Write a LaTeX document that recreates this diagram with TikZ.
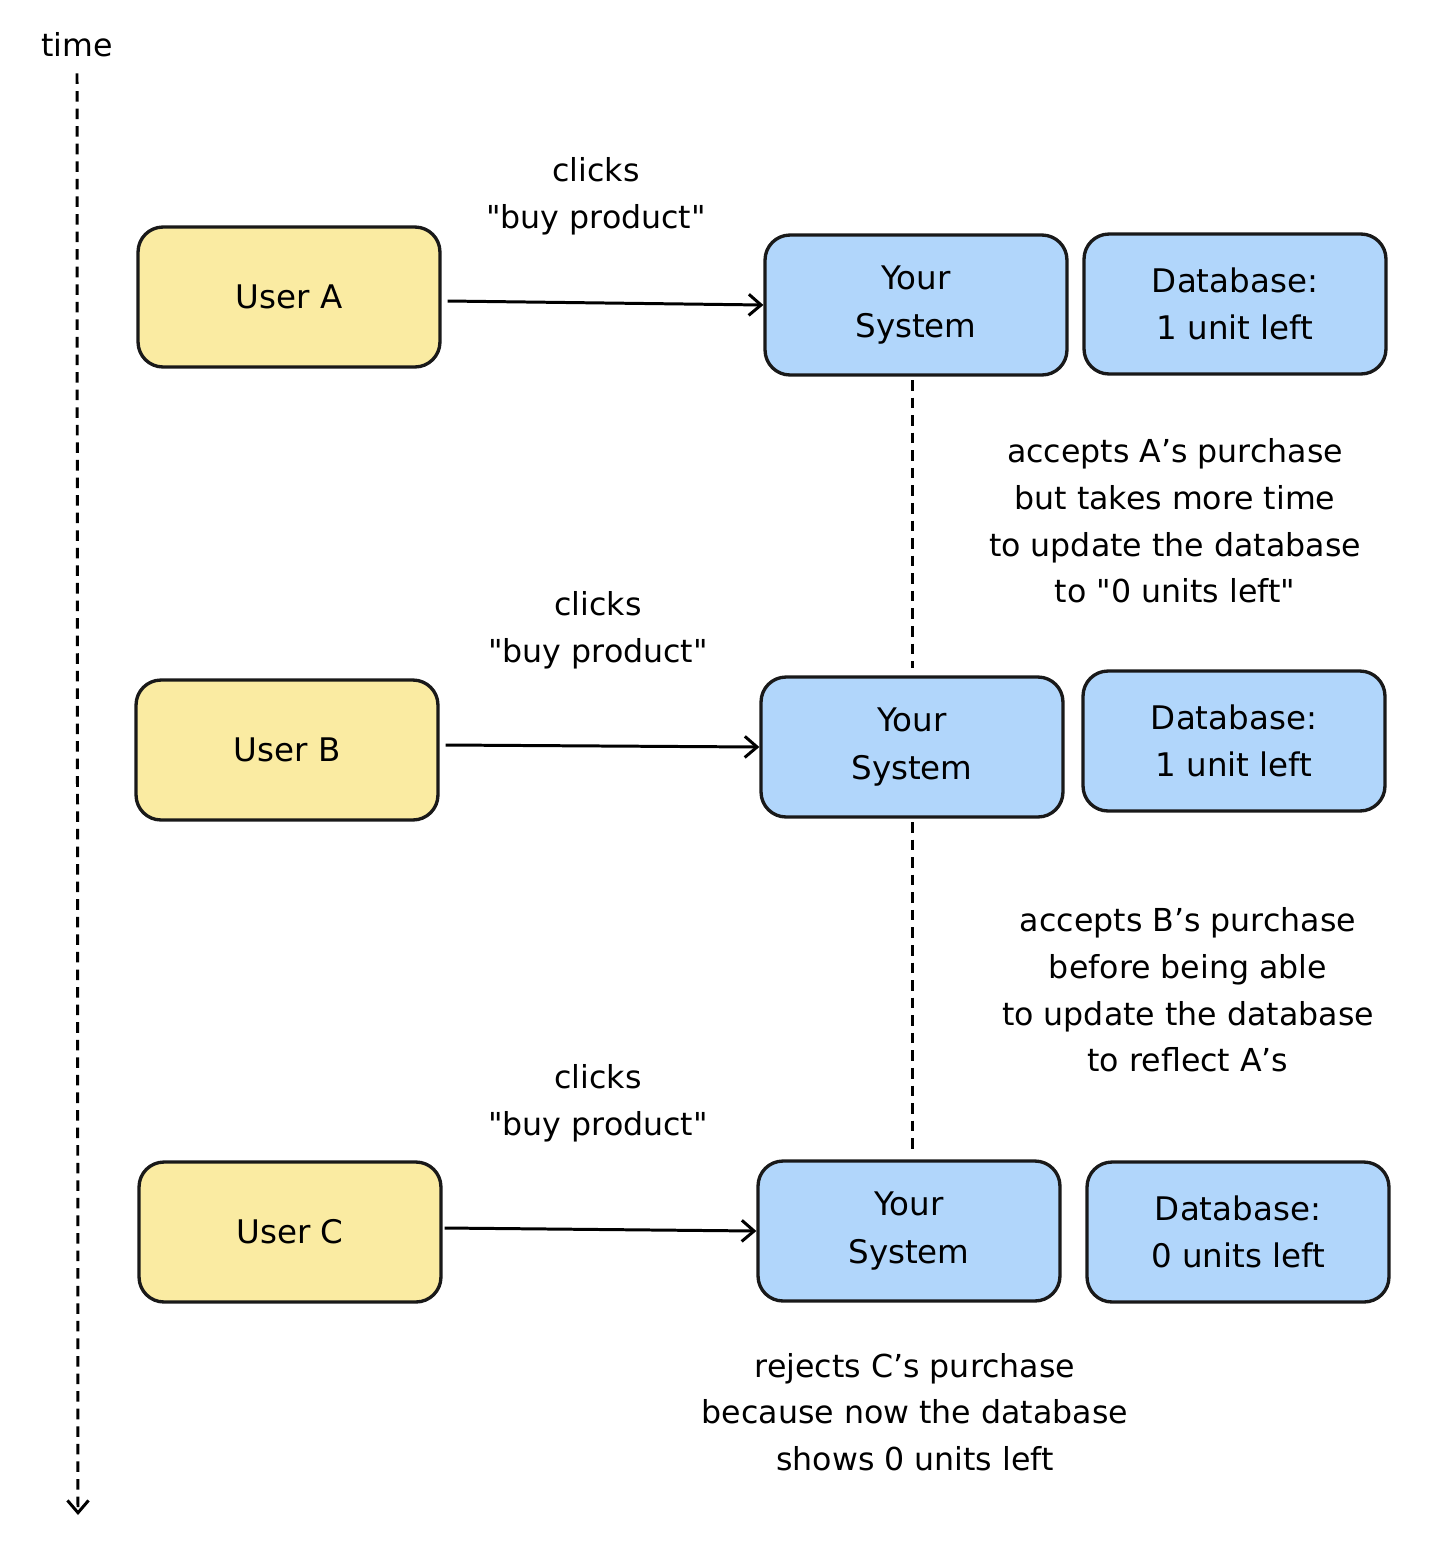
\documentclass[tikz,border=0pt]{standalone}
\usepackage{fontspec}
\setmainfont{DejaVu Sans}
\usepackage{tikz}
\usetikzlibrary{positioning,arrows.meta}
\begin{document}
\begin{tikzpicture}[y=-0.02cm,x=0.02cm,
	box/.style={draw=black!90, line width=1.9pt, rounded corners=0.5cm, minimum width=6.04cm, minimum height=2.8cm, align=center, font=\fontsize{18.5}{27}\selectfont},
	user/.style={box, fill=userfill},
	sys/.style={box, fill=sysfill},
	note/.style={align=center, font=\fontsize{18}{26.5}\selectfont},
	flow/.style={line width=1.7pt, -{Straight Barb[length=7pt,width=12pt]}},
	wait/.style={line width=1.7pt, dashed, dash pattern=on 6pt off 4pt}]
	\definecolor{userfill}{HTML}{FAEBA2}
	\definecolor{sysfill}{HTML}{B1D6FB}
	\useasboundingbox (0,0) rectangle (1448,1546);

	% time axis
	\node[note] (time) at (77,45) {time};
	\coordinate (tend) at (78,1515);
	\draw[wait, -{Straight Barb[length=7pt,width=12pt]}] (time.south) ++(0,10) -- (tend);

	% first request
	\node[user] (ua) at (289,297) {User A};
	\node[sys] (sa) at (916,305) {Your\\System};
	\node[sys] (da) at (1235,304) {Database:\\1 unit left};
	\draw[flow] (ua.east) ++(6,4) -- (sa.west);
	\node[note] at (596,196) {clicks\\\textquotedbl buy product\textquotedbl};

	% second request
	\node[user] (ub) at (287,750) {User B};
	\node[sys] (sb) at (912,747) {Your\\System};
	\node[sys] (db) at (1234,741) {Database:\\1 unit left};
	\draw[flow] (ub.east) ++(6,-5) -- (sb.west);
	\node[note] at (598,630) {clicks\\\textquotedbl buy product\textquotedbl};

	% third request
	\node[user] (uc) at (290,1232) {User C};
	\node[sys] (sc) at (909,1231) {Your\\System};
	\node[sys] (dc) at (1238,1232) {Database:\\0 units left};
	\draw[flow] (uc.east) ++(2,-4) -- (sc.west);
	\node[note] at (598,1103) {clicks\\\textquotedbl buy product\textquotedbl};

	\coordinate (wa) at (912,380);
	\coordinate (wb) at (912,668);
	\coordinate (wc) at (912,822);
	\coordinate (wd) at (912,1152);
	\draw[wait] (wa) -- (wb);
	\draw[wait] (wc) -- (wd);

	\node[note] at (1175,521) {accepts A's purchase\\but takes more time\\to update the database\\to \textquotedbl 0 units left\textquotedbl};
	\node[note] at (1188,990) {accepts B's purchase\\before being able\\to update the database\\to reflect A's};
	\node[note] at (915,1412) {rejects C's purchase\\because now the database\\shows 0 units left};
\end{tikzpicture}
\end{document}
